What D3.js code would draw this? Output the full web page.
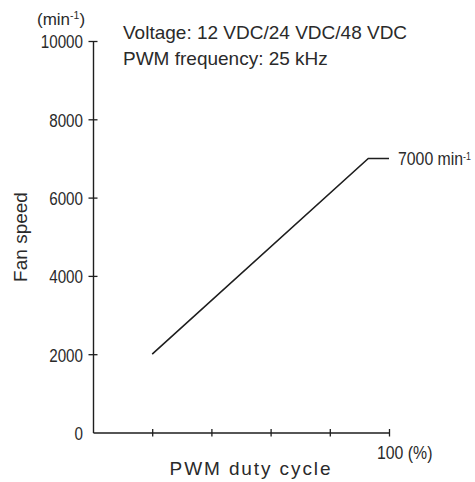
<!DOCTYPE html>
<html>
<head>
<meta charset="utf-8">
<script src="https://cdn.jsdelivr.net/npm/d3@7"></script>
<style>
  body { margin: 0; background: #fff; }
  svg { display: block; }
  .label { font-family: "Liberation Sans", Arial, sans-serif; fill: #2a2a2a; }
</style>
</head>
<body>
<div id="chart"></div>
<script>
const W = 475, H = 482;

// data
const dutyCycle = [20, 93, 100];        // %
const fanSpeed  = [2000, 7000, 7000];   // min-1
const yTicks = [0, 2000, 4000, 6000, 8000, 10000];
const xTicks = [20, 40, 60, 80, 100];
const notes = ["Voltage: 12 VDC/24 VDC/48 VDC", "PWM frequency: 25 kHz"];

const INK = "#1e1e1e";
const NARROW = 0.8;   // squeeze for the condensed y tick digits
const SEMI = 0.88;    // lighter squeeze for the other condensed labels

var svg = d3.select("#chart").append("svg")
    .attr("width", W)
    .attr("height", H);

var x = d3.scaleLinear().domain([0, 100]).range([93, 389]);
var y = d3.scaleLinear().domain([0, 10000]).range([432.5, 41]);

////////// y axis //////////
var yAxis = svg.append("g")
    .attr("transform", "translate(" + x(0) + ",0)")
    .call(d3.axisLeft(y).tickValues(yTicks).tickSizeOuter(0).tickFormat(d3.format("d")));

yAxis.select(".domain").attr("stroke", INK).attr("stroke-width", 1.4);
yAxis.selectAll(".tick line")
    .attr("x1", -4.5).attr("x2", 4.5)
    .attr("stroke", INK).attr("stroke-width", 1.3)
    .filter(function(d) { return d === 0; }).remove();
yAxis.selectAll(".tick text")
    .attr("class", "label")
    .attr("x", -10 / NARROW)
    .attr("transform", "scale(" + NARROW + ",1)")
    .attr("dy", "0.36em")
    .style("font-size", "19px");

////////// x axis //////////
var xAxis = svg.append("g")
    .attr("transform", "translate(0," + y(0) + ")")
    .call(d3.axisBottom(x).tickValues(xTicks).tickSizeOuter(0)
        .tickFormat(function(d) { return d === 100 ? "100" : ""; }));

xAxis.select(".domain").attr("stroke", INK).attr("stroke-width", 1.4);
xAxis.selectAll(".tick line")
    .attr("y1", -3.5).attr("y2", 4)
    .attr("stroke", INK).attr("stroke-width", 1.3);
xAxis.selectAll(".tick text")
    .attr("class", "label")
    .attr("text-anchor", "start")
    .attr("x", -12.5 / SEMI)
    .attr("y", 26.5)
    .attr("dy", 0)
    .attr("transform", "scale(" + SEMI + ",1)")
    .style("font-size", "18px")
    .text(function(d) { return d === 100 ? "100 (%)" : ""; });

////////// line //////////
var pts = dutyCycle.map(function(d, i) { return [d, fanSpeed[i]]; });

svg.append("path")
    .datum(pts)
    .attr("fill", "none")
    .attr("stroke", INK)
    .attr("stroke-width", 1.6)
    .attr("d", d3.line()
        .x(function(d) { return x(d[0]); })
        .y(function(d) { return y(d[1]); }));

var endLabel = svg.append("g")
    .attr("transform", "translate(" + (x(100) + 9) + "," + y(7000) + ") scale(" + SEMI + ",1)")
    .append("text")
    .attr("class", "label")
    .attr("dy", "0.36em")
    .style("font-size", "18px");
endLabel.append("tspan").text(fanSpeed[2] + " min");
endLabel.append("tspan").attr("dy", "-0.45em").style("font-size", "10px").text("-1");

////////// titles //////////
var unit = svg.append("text")
    .attr("class", "label")
    .attr("x", 37).attr("y", 25)
    .style("font-size", "17px");
unit.append("tspan").text("(min");
unit.append("tspan").attr("dy", -6).style("font-size", "10.5px").text("-1");
unit.append("tspan").attr("dy", 6).text(")");

svg.selectAll(".note")
    .data(notes)
    .enter()
    .append("text")
    .attr("class", "label note")
    .attr("x", 123)
    .attr("y", function(d, i) { return 38.5 + i * 26; })
    .style("font-size", "19px")
    .text(function(d) { return d; });

svg.append("text")
    .attr("class", "label")
    .attr("transform", "translate(27,237) rotate(-90)")
    .attr("text-anchor", "middle")
    .style("font-size", "19px")
    .text("Fan speed");

svg.append("text")
    .attr("class", "label")
    .attr("x", 251).attr("y", 475)
    .attr("text-anchor", "middle")
    .style("font-size", "19px")
    .style("letter-spacing", "1.9px")
    .text("PWM duty cycle");
</script>
</body>
</html>
